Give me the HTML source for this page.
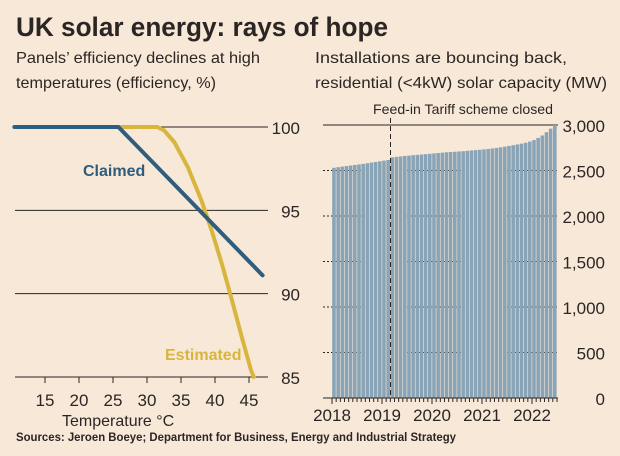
<!DOCTYPE html>
<html><head><meta charset="utf-8"><style>
body{margin:0;background:#f8e8d8;}
svg{display:block;font-family:"Liberation Sans",sans-serif;}
</style></head><body>
<svg width="620" height="456" viewBox="0 0 620 456">
<rect width="620" height="456" fill="#f8e8d8"/>
<text x="16" y="36" font-size="27" font-weight="bold" fill="#2b2624" textLength="372" lengthAdjust="spacingAndGlyphs">UK solar energy: rays of hope</text>
<text x="16" y="63" font-size="16" fill="#2b2624" textLength="244" lengthAdjust="spacingAndGlyphs">Panels’ efficiency declines at high</text>
<text x="16" y="88" font-size="16" fill="#2b2624" textLength="200" lengthAdjust="spacingAndGlyphs">temperatures (efficiency, %)</text>
<text x="315" y="63" font-size="16" fill="#2b2624" textLength="252" lengthAdjust="spacingAndGlyphs">Installations are bouncing back,</text>
<text x="315" y="88" font-size="16" fill="#2b2624" textLength="292" lengthAdjust="spacingAndGlyphs">residential (&lt;4kW) solar capacity (MW)</text>
<g id="left"></g>
<g id="right"></g>
<text x="16" y="441" font-size="12" font-weight="bold" fill="#2b2624" textLength="440" lengthAdjust="spacingAndGlyphs">Sources: Jeroen Boeye; Department for Business, Energy and Industrial Strategy</text>
</svg>
<script>
// Left chart data
const effYTicks = [85, 90, 95, 100];
const tempXTicks = [15, 20, 25, 30, 35, 40, 45];
const claimedTemp = [10.5, 25.8, 47];
const claimedEff = [100, 100, 91.1];
const estTemp = [25.8, 31.5, 32.5, 34, 36, 38, 39.5, 41, 42.5, 44, 45.3, 45.8];
const estEff = [100, 100, 99.8, 99.1, 97.6, 95.6, 93.8, 91.8, 89.6, 87.3, 85.4, 84.9];

// Right chart data
const capValues = [2530,2537,2543,2549,2555,2561,2567,2573,2580,2587,2594,2601,2608,2615,2645,2650,2655,2660,2664,2668,2672,2676,2680,2684,2688,2692,2696,2700,2703,2706,2709,2712,2716,2720,2724,2728,2732,2737,2742,2748,2755,2762,2770,2778,2786,2795,2805,2818,2835,2858,2885,2920,2960,3000];
const capYTicks = [0, 500, 1000, 1500, 2000, 2500, 3000];
const capYLabels = ["0","500","1,000","1,500","2,000","2,500","3,000"];
const yearTicks = [2018, 2019, 2020, 2021, 2022];
const startYear = 2018;
const tariffClosed = 2019.17;

const NS = "http://www.w3.org/2000/svg";
function mk(tag, attrs, parent, text){
  const e = document.createElementNS(NS, tag);
  for (const k in attrs) e.setAttribute(k, attrs[k]);
  if (text !== undefined) e.textContent = text;
  parent.appendChild(e);
  return e;
}
const ink = "#2b2624";

// ---- Left chart
const L = document.getElementById('left');
const lx = t => 45 + (t - 15) * (204 / 30);
const ly = v => 127 + (100 - v) * (250 / 15);
effYTicks.forEach(v => {
  const g = mk('line', {x1:15, x2:268, y1:ly(v), y2:ly(v), stroke:ink, 'stroke-width':1}, L);
  
  
  const t = mk('text', {x:300, y:ly(v)+7, 'font-size':17, fill:ink, 'text-anchor':'end'}, L, String(v));
  
  
});
tempXTicks.forEach(v => {
  const tk = mk('line', {x1:lx(v), x2:lx(v), y1:ly(85), y2:ly(85)+6, stroke:ink, 'stroke-width':1}, L);
  
  
  const t = mk('text', {x:lx(v), y:406, 'font-size':17, fill:ink, 'text-anchor':'middle'}, L, String(v));
  
  
});
const xt = mk('text', {x:62, y:426, 'font-size':16, fill:ink}, L, 'Temperature °C');


const estPts = estTemp.map((t,i) => lx(t)+','+ly(estEff[i])).join(' ');
const est = mk('polyline', {points:estPts, fill:'none', stroke:'#d8b63e', 'stroke-width':4, 'stroke-linejoin':'round'}, L);


const clPts = claimedTemp.map((t,i) => lx(t)+','+ly(claimedEff[i])).join(' ');
const cl = mk('polyline', {points:clPts, fill:'none', stroke:'#2e5d7d', 'stroke-width':4, 'stroke-linejoin':'round', 'stroke-linecap':'round'}, L);


const cLab = mk('text', {x:83, y:176, 'font-size':16, 'font-weight':'bold', fill:'#2e5d7d'}, L, 'Claimed');


const eLab = mk('text', {x:165, y:360, 'font-size':16, 'font-weight':'bold', fill:'#d8b63e'}, L, 'Estimated');



// ---- Right chart
const R = document.getElementById('right');
const rx = y => 332 + (y - 2018) * 50;
const ry = v => 398 - v * (273 / 3000);
const bw = 50 / 12;
capYTicks.forEach((v, i) => {
  const g = mk('line', {x1:323, x2:558, y1:ry(v), y2:ry(v), stroke:ink, 'stroke-width':1, 'stroke-dasharray': v===0||v===3000 ? 'none' : '2,2'}, R);
  
  
  const t = mk('text', {x:605, y:ry(v)+7, 'font-size':17, fill:ink, 'text-anchor':'end'}, R, capYLabels[i]);
  
  
});
capValues.forEach((v, i) => {
  const b = mk('rect', {x:rx(startYear + i/12)+0.2, y:ry(v), width:bw-0.6, height:ry(0)-ry(v)-0.5, fill:'#88a4b6'}, R);
  
  
});
for (let m = 0; m <= 54; m++) {
  const major = m % 12 === 0;
  const tk = mk('line', {x1:rx(2018+m/12), x2:rx(2018+m/12), y1:ry(0), y2:ry(0)+(major?6:4), stroke:ink, 'stroke-width':1}, R);
  
  
}
yearTicks.forEach(y => {
  const t = mk('text', {x:rx(y), y:421, 'font-size':17, fill:ink, 'text-anchor':'middle'}, R, String(y));
  
  
});
const dl = mk('line', {x1:rx(tariffClosed), x2:rx(tariffClosed), y1:118, y2:ry(0), stroke:ink, 'stroke-width':1, 'stroke-dasharray':'5,3'}, R);


const an = mk('text', {x:373, y:114, 'font-size':14, fill:ink, textLength:180, lengthAdjust:'spacingAndGlyphs'}, R, 'Feed-in Tariff scheme closed');


</script>
</body></html>
